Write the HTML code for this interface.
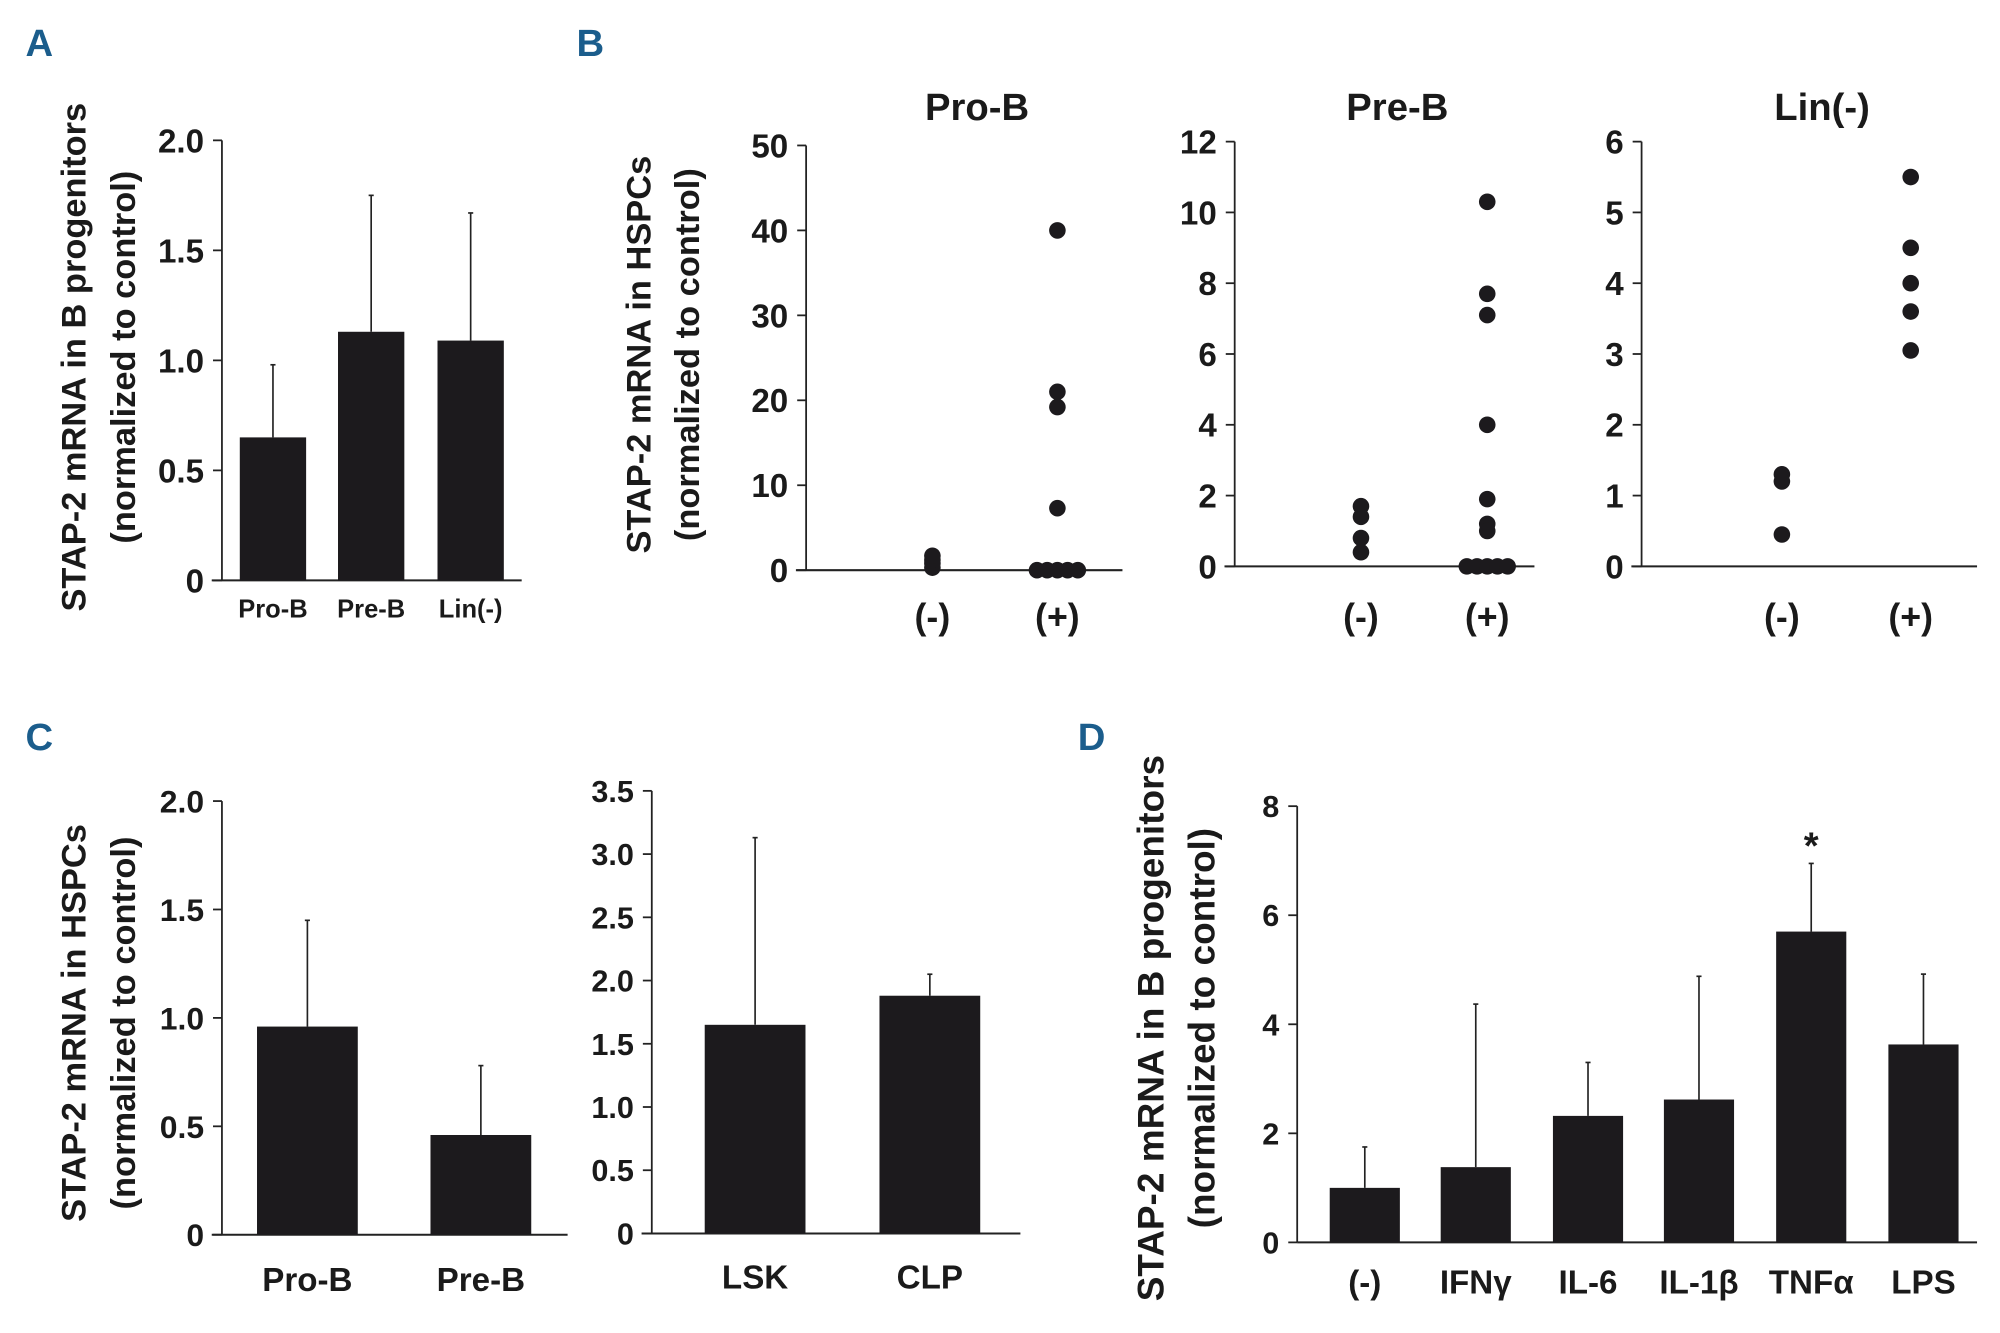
<!DOCTYPE html>
<html><head><meta charset="utf-8"><style>
html,body{margin:0;padding:0;background:#fff;}
svg{display:block;}
text{font-family:"Liberation Sans Narrow","Liberation Sans",sans-serif;font-weight:bold;fill:#1a1a1a;}
.ws{font-family:"Liberation Sans","DejaVu Sans",sans-serif;}
</style></head><body>
<svg id="fig" width="2000" height="1333" viewBox="0 0 1568 1045" xmlns="http://www.w3.org/2000/svg">
<g id="root"></g>
</svg>
<script>
// Panel A
const aCats = ["Pro-B","Pre-B","Lin(-)"];
const aVals = [0.65,1.13,1.09];
const aErr = [0.98,1.75,1.67];
const aTicks = ["0","0.5","1.0","1.5","2.0"];
// Panel B
const bProNeg = [0.3,0.8,1.2,1.7];
const bProPos = [40,21,19.2,7.3,0,0,0,0,0];
const bPreNeg = [1.7,1.4,0.8,0.4];
const bPrePos = [10.3,7.7,7.1,4.0,1.9,1.2,1.0,0,0,0,0,0];
const bLinNeg = [1.3,1.2,0.45];
const bLinPos = [5.5,4.5,4.0,3.6,3.05];
const bCats = ["(-)","(+)"];
const bProTicks = [0,10,20,30,40,50];
const bPreTicks = [0,2,4,6,8,10,12];
const bLinTicks = [0,1,2,3,4,5,6];
// Panel C
const cCats1 = ["Pro-B","Pre-B"];
const cVals1 = [0.96,0.46];
const cErr1 = [1.45,0.78];
const cTicks1 = ["0","0.5","1.0","1.5","2.0"];
const cCats2 = ["LSK","CLP"];
const cVals2 = [1.65,1.88];
const cErr2 = [3.13,2.05];
const cTicks2 = ["0","0.5","1.0","1.5","2.0","2.5","3.0","3.5"];
// Panel D
const dCats = ["(-)","IFNγ","IL-6","IL-1β","TNFα","LPS"];
const dVals = [1.0,1.38,2.32,2.62,5.7,3.63];
const dErr = [1.75,4.37,3.3,4.88,6.95,4.92];
const dTicks = [0,2,4,6,8];

const NS="http://www.w3.org/2000/svg";
const root=document.getElementById('root');
function mk(tag,attrs,parent,txt){const e=document.createElementNS(NS,tag);for(const k in attrs)e.setAttribute(k,attrs[k]);if(txt!==undefined)e.textContent=txt;(parent||root).appendChild(e);return e;}
function grp(name){const g=mk('g',{});


return g;}
function yscale(y0,y1,max){return v=>y0-(v/max)*(y0-y1);}

function axes(g,ax,yTop,yBot,bx0,bx1,ticks,tickVals,max,fs,cls){
  const y=yscale(yBot,yTop,max);
  const ya=mk('line',{x1:ax,y1:yTop,x2:ax,y2:yBot,stroke:'#222','stroke-width':1.4},g);
  
  
  const xa=mk('line',{x1:bx0,y1:yBot,x2:bx1,y2:yBot,stroke:'#222','stroke-width':1.6},g);
  
  
  ticks.forEach((t,i)=>{const v=tickVals[i];const yy=y(v);
    mk('line',{x1:ax-7,y1:yy,x2:ax,y2:yy,stroke:'#222','stroke-width':1.4},g);
    const tx=mk('text',{x:ax-14,y:yy+fs*0.36,'text-anchor':'end','font-size':fs,class:cls||''},g,t);
    
    
  });
  return y;
}
function bars(g,y,centers,w,vals,errs){
  vals.forEach((v,i)=>{const c=centers[i];
    const r=mk('rect',{x:c-w/2,y:y(v),width:w,height:y(0)-y(v),fill:'#1c1a1d'},g);
    
    
    const e=mk('line',{x1:c,y1:y(v),x2:c,y2:y(errs[i]),stroke:'#222','stroke-width':1.3},g);
    
    
    mk('line',{x1:c-2,y1:y(errs[i]),x2:c+2,y2:y(errs[i]),stroke:'#222','stroke-width':1.3},g);
  });
}
function xlabels(g,centers,cats,yy,fs,cls){
  cats.forEach((c,i)=>{const t=mk('text',{x:centers[i],y:yy,'text-anchor':'middle','font-size':fs,class:cls||''},g,c);
    
    });
}
function ylabel(g,x1,x2,cy,l1,l2,fs){
  [[x1,l1],[x2,l2]].forEach(([x,s])=>{const t=mk('text',{x:x,y:cy,'text-anchor':'middle','font-size':fs,class:'ws',transform:`rotate(-90 ${x} ${cy})`},g,s);
  
  });
}
function letter(x,y,s){const t=mk('text',{x:x,y:y,'font-size':30,style:'fill:#1b5d8c'},root,s);
  
  }

letter(20,44,'A');letter(452,44,'B');letter(20,588,'C');letter(845,588,'D');

// A
{const g=grp('panel-a-chart');
 const y=axes(g,174,110,455,166,409,aTicks,[0,0.5,1,1.5,2],2,26,'ws');
 const cs=[214,291,369];
 bars(g,y,cs,52,aVals,aErr);
 xlabels(g,cs,aCats,484,20,'ws');
 ylabel(g,67,106,280,'STAP-2 mRNA in B progenitors','(normalized to control)',27);}

// B
function dots(g,y,cx,vals){
  const zeros=vals.filter(v=>v===0).length;let zi=0;
  vals.forEach(v=>{let x=cx;
    if(v===0&&zeros>1){x=cx-(zeros-1)*4+zi*8;zi++;}
    const c=mk('circle',{cx:x,cy:y(v),r:6.5,fill:'#1c1a1d'},g);
    
    });
}
function scat(name,title,ax,yTop,yBot,bx1,ticks,max,negX,posX,neg,pos){
  const g=grp(name);
  const y=axes(g,ax,yTop,yBot,ax-8,bx1,ticks.map(String),ticks,max,26);
  dots(g,y,negX,neg);dots(g,y,posX,pos);
  xlabels(g,[negX,posX],bCats,493,28);
  const t=mk('text',{x:(ax+bx1)/2+10,y:94,'text-anchor':'middle','font-size':30},g,title);
  
  
  return g;
}
scat('panel-b-pro-b','Pro-B',632,114,447,880,bProTicks,50,731,829,bProNeg,bProPos);
scat('panel-b-pre-b','Pre-B',968,111,444,1203,bPreTicks,12,1067,1166,bPreNeg,bPrePos);
scat('panel-b-lin','Lin(-)',1287,111,444,1550,bLinTicks,6,1397,1498,bLinNeg,bLinPos);
{const g=grp('panel-b-ylabel');ylabel(g,510,548,278,'STAP-2 mRNA in HSPCs','(normalized to control)',27);}

// C left
{const g=grp('panel-c-left');
 const y=axes(g,174,628,968,166,445,cTicks1,[0,0.5,1,1.5,2],2,25,'ws');
 const cs=[241,377];bars(g,y,cs,79,cVals1,cErr1);
 xlabels(g,cs,cCats1,1012,26,'ws');
 ylabel(g,67,106,802,'STAP-2 mRNA in HSPCs','(normalized to control)',27);}
// C right
{const g=grp('panel-c-right');
 const y=axes(g,511,620,967,503,800,cTicks2,[0,0.5,1,1.5,2,2.5,3,3.5],3.5,24,'ws');
 const cs=[592,729];bars(g,y,cs,79,cVals2,cErr2);
 xlabels(g,cs,cCats2,1010,26,'ws');}
// D
{const g=grp('panel-d');
 const y=axes(g,1017,632,974,1017,1550,dTicks.map(String),dTicks,8,24,'ws');
 const cs=[1070,1157,1245,1332,1420,1508];bars(g,y,cs,55,dVals,dErr);
 xlabels(g,cs,dCats,1014,26,'ws');
 const s=mk('text',{x:1420,y:y(dErr[4])-4,'text-anchor':'middle','font-size':30,class:'ws'},g,'*');
 
 
 ylabel(g,912,952,806,'STAP-2 mRNA in B progenitors','(normalized to control)',29);}
</script>
</body></html>
